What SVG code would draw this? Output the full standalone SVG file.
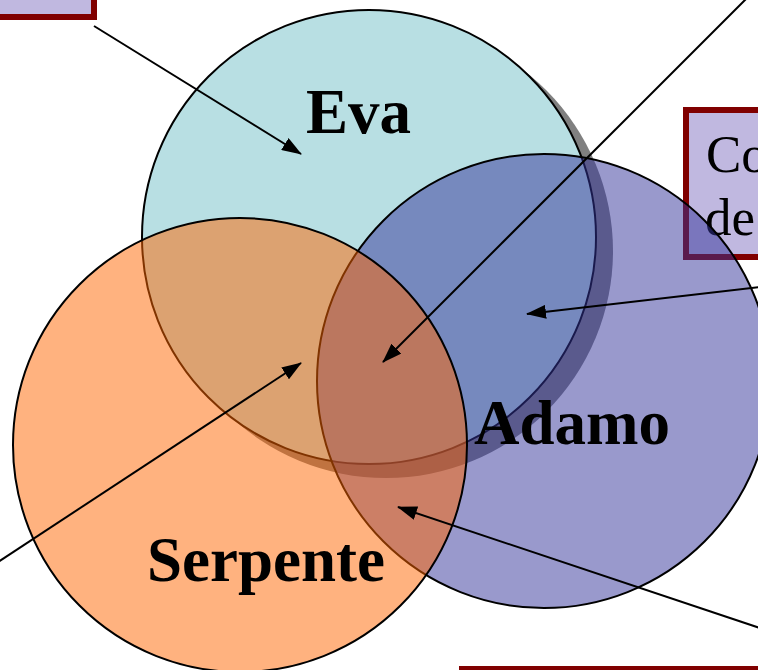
<svg xmlns="http://www.w3.org/2000/svg" width="758" height="670" viewBox="0 0 758 670">
<defs>
<style>
.box{fill:#c0b8e0;stroke:#800000;stroke-width:6}
.circ{stroke:#000;stroke-width:2}
.lbl{font-family:"Liberation Serif","Times New Roman",serif;font-weight:bold;font-size:63px;fill:#000}
.boxtxt{font-family:"Liberation Serif","Times New Roman",serif;font-size:53px;fill:#000}
.arr{stroke:#000;stroke-width:2;fill:none;marker-end:url(#ah)}
</style>
<marker id="ah" viewBox="0 0 20 14" markerWidth="20" markerHeight="14" refX="19" refY="7" orient="auto" markerUnits="userSpaceOnUse">
<path d="M0,0 L20,7 L0,14 z" fill="#000"/>
</marker>
</defs>
<rect width="758" height="670" fill="#fff"/>
<g id="box-topleft"><rect class="box" x="-20" y="-60" width="114" height="77"/></g>
<g id="box-right"><rect class="box" x="686" y="110" width="120" height="147"/><text class="boxtxt" x="706" y="172">Co</text><text class="boxtxt" x="705" y="235">de</text></g>
<g id="box-bottom"><rect class="box" x="462" y="669" width="340" height="60"/></g>
<g id="eva">
<circle cx="386" cy="251" r="227" fill="#808080"/>
<circle class="circ" cx="369" cy="237" r="227" fill="#b8dfe3"/>
<text class="lbl" x="306" y="133">Eva</text>
</g>
<g id="adamo">
<circle class="circ" cx="544" cy="381" r="227" fill="#333399" fill-opacity="0.5"/>
<text class="lbl" x="474" y="444">Adamo</text>
</g>
<g id="serpente">
<circle class="circ" cx="240" cy="445" r="227" fill="#ff6600" fill-opacity="0.5"/>
<text class="lbl" x="147" y="581">Serpente</text>
</g>
<g id="connectors">
<line class="arr" x1="94" y1="26" x2="301" y2="154"/>
<line class="arr" x1="760" y1="-15" x2="383" y2="362"/>
<line class="arr" x1="760" y1="287" x2="527" y2="314"/>
<line class="arr" x1="-2" y1="562" x2="301" y2="363"/>
<line class="arr" x1="760" y1="628" x2="398" y2="507"/>
</g>
</svg>
